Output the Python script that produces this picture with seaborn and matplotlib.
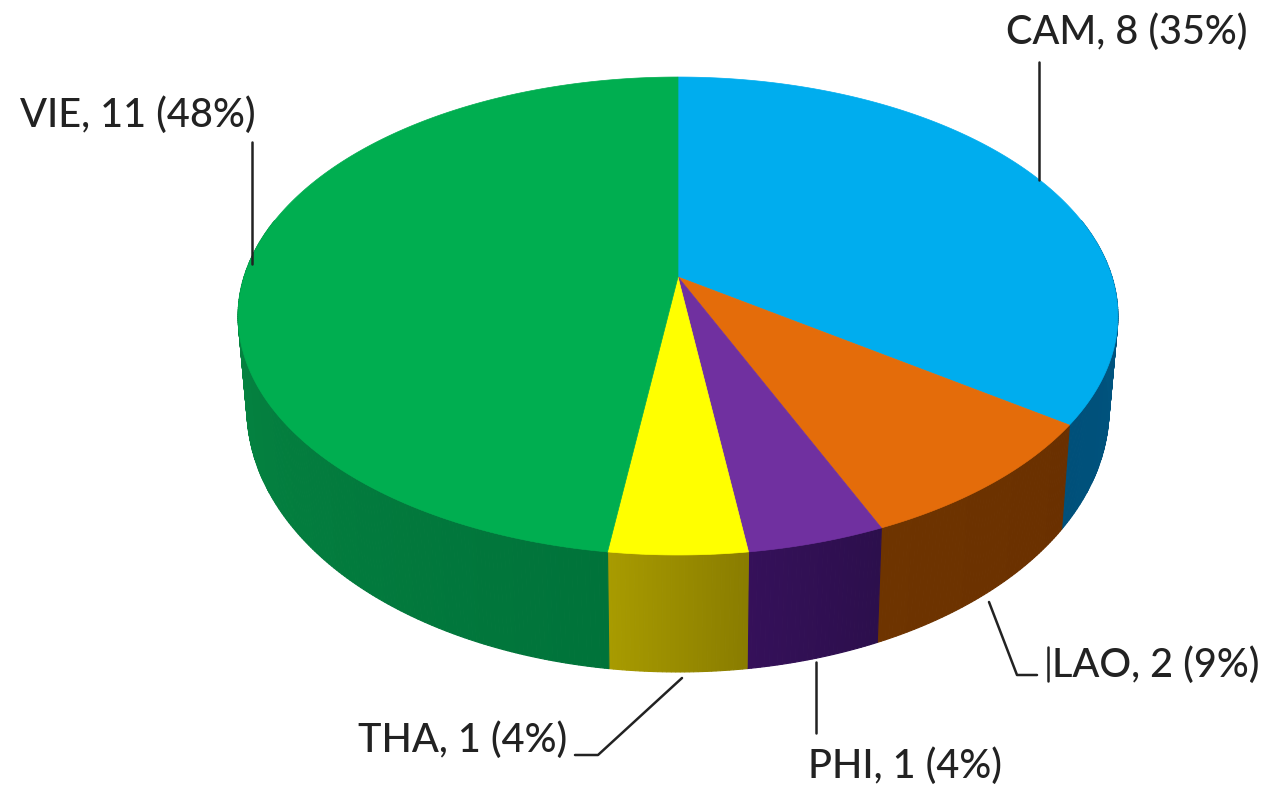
import numpy as np
import matplotlib
matplotlib.use("Agg")
import matplotlib.pyplot as plt
import matplotlib.colors as mcolors
import seaborn as sns

# Slices, clockwise from 12 o'clock
names = ["CAM", "LAO", "PHI", "THA", "VIE"]
counts = [8, 2, 1, 1, 11]
percents = [35, 9, 4, 4, 48]

top_colors = ["#00ADEE", "#E46C0A", "#7030A0", "#FFFF00", "#00AE50"]
side_left = ["#00507A", "#6E3400", "#35105A", "#A89C00", "#0C9A4A"]
side_right = ["#005F8C", "#6A3000", "#2C0F4C", "#8A7C00", "#00733A"]

label_pos = [(1006, 32), (1052, 665), (808, 766), (358, 740), (20, 115)]
leaders = [
    [(1039, 62), (1039, 180)],
    [(989, 602), (1017, 675), (1037, 675)],
    [(816, 662), (816, 733)],
    [(682, 678), (598, 755), (575, 755)],
    [(252, 142), (252, 264)],
]

sns.set_style("white")
plt.rcParams["font.family"] = ["Lato", "DejaVu Sans"]

fig = plt.figure(figsize=(12.63, 7.87), dpi=100)
ax = fig.add_axes([0, 0, 1, 1])

# let pie work out the slice angles, then draw them tilted
wedges, _ = ax.pie(counts, startangle=90, counterclock=False, colors=top_colors)
angles = [(w.theta1, w.theta2) for w in wedges]
for w in wedges:
    w.remove()

ax.set_aspect("auto")
ax.set_xlim(0, 1263)
ax.set_ylim(787, 0)
ax.axis("off")


def tilt(theta, scale=1.0, drop=False):
    u = np.cos(np.radians(theta))
    v = np.sin(np.radians(theta))
    w = 1 + 0.1632 * v
    x = 678 + scale * 434 * u / w
    y = (277 - 187.4 * v) / w
    if drop:
        y = y + 87 - 30 * v
    return x, y


# side walls first, the top covers whatever sticks out
for (t1, t2), c1, c2 in zip(angles, side_left, side_right):
    lo, hi = min(t1, t2), max(t1, t2)
    edges = np.linspace(lo, hi, int(hi - lo) * 2 + 2)
    shade_from = max(lo, 170)
    for a, b in zip(edges[:-1], edges[1:]):
        mid = (a + b) / 2
        if np.sin(np.radians(mid)) > 0.25:
            continue
        xa, ya = tilt(np.array([a, b]))
        xb, yb = tilt(np.array([b, a]), scale=0.98, drop=True)
        if hi - lo > 150 and hi > 180:
            f = np.clip((mid - shade_from) / (hi - shade_from), 0, 1)
        else:
            f = (mid - lo) / (hi - lo)
        rgb = (1 - f) * np.array(mcolors.to_rgb(c1)) + f * np.array(mcolors.to_rgb(c2))
        ax.fill(np.r_[xa, xb], np.r_[ya, yb], color=rgb, lw=0.8, zorder=2)

for (t1, t2), color in zip(angles, top_colors):
    theta = np.linspace(t1, t2, 240)
    x, y = tilt(theta)
    ax.fill(np.r_[678, x], np.r_[277, y], color=color, lw=0.5, zorder=3)

for pts in leaders:
    xs, ys = zip(*pts)
    ax.plot(xs, ys, color="#222222", lw=1.8, zorder=4)
ax.plot([1048, 1048], [647, 681], color="#222222", lw=1.8, zorder=4)

for name, n, pct, (tx, ty) in zip(names, counts, percents, label_pos):
    ax.text(tx, ty, f"{name}, {n} ({pct}%)", fontsize=28.5, color="#222222",
            fontweight="medium", ha="left", va="center", zorder=5)

fig.savefig("out.png", dpi=100)
